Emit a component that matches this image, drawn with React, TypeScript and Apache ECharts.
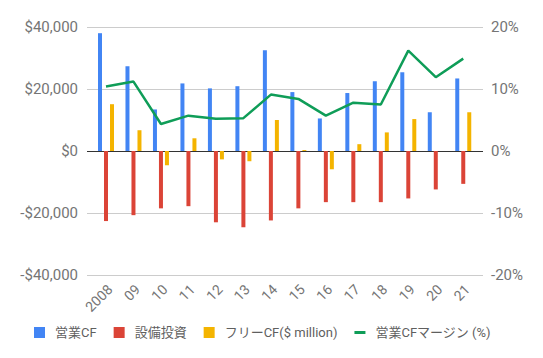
import React, { useEffect, useRef } from "react";
import * as echarts from "echarts";

const years = ["2008", "09", "10", "11", "12", "13", "14", "15", "16", "17", "18", "19", "20", "21"];
const operatingCF = [38000, 27300, 13400, 21800, 20200, 20900, 32500, 19000, 10500, 18700, 22500, 25400, 12500, 23400];
const capex = [-22600, -20700, -18500, -17800, -23000, -24600, -22400, -18500, -16500, -16500, -16500, -15300, -12400, -10600];
const freeCF = [15100, 6700, -4600, 4100, -2700, -3300, 10000, 300, -5900, 2200, 6000, 10300, 0, 12500];
const margin = [10.4, 11.2, 4.35, 5.7, 5.2, 5.3, 9.1, 8.4, 5.7, 7.8, 7.5, 16.2, 11.9, 14.9];

const seriesNames = ["営業CF", "設備投資", "フリーCF($ million)", "営業CFマージン (%)"];
const leftTicks = { min: -40000, max: 40000, interval: 20000 };
const rightTicks = { min: -20, max: 20, interval: 10 };

const FONT = 'Roboto, "Noto Sans CJK JP", sans-serif';

export default function App() {
  const ref = useRef<HTMLDivElement>(null);
  useEffect(() => {
    if (!ref.current) return;
    const chart = echarts.init(ref.current, undefined, { renderer: "svg" });
    const fmtMoney = (v: number) =>
      (v < 0 ? "-" : "") + "$" + Math.abs(v).toLocaleString("en-US");
    const top = 27;
    const bottom = 83;
    chart.setOption({
      animation: false,
      textStyle: { fontFamily: FONT },
      grid: [
        { left: 87, right: 60, top, bottom },
        { left: 92.25, right: 66, top, bottom },
        { left: 96.25, right: 62, top, bottom },
      ],
      legend: {
        left: 34,
        top: 326,
        padding: 0,
        itemWidth: 11,
        itemHeight: 11,
        itemGap: 17,
        textStyle: { fontSize: 13, color: "#5f5f5f", fontFamily: FONT, padding: [0, 0, 0, 5] },
        data: [
          { name: seriesNames[0], icon: "rect" },
          { name: seriesNames[1], icon: "rect" },
          { name: seriesNames[2], icon: "rect" },
          { name: seriesNames[3], icon: "path://M0,0h11v3h-11z" },
        ],
      },
      xAxis: [
        { gridIndex: 0, type: "category", data: years, show: false },
        {
          gridIndex: 1,
          type: "category",
          data: years,
          axisLine: { show: false, onZero: false },
          axisTick: { show: false },
          axisLabel: { show: false },
        },
        {
          gridIndex: 2,
          type: "category",
          data: years,
          axisLine: { show: false, onZero: false },
          axisTick: { show: false },
          axisLabel: { rotate: 45, fontSize: 14, color: "#757575", margin: 12, interval: 0 },
        },
      ],
      yAxis: [
        {
          gridIndex: 0,
          type: "value",
          position: "left",
          ...leftTicks,
          axisLabel: { fontSize: 15, color: "#757575", margin: 9, formatter: fmtMoney },
          axisLine: { show: false },
          axisTick: { show: false },
          splitLine: {
            show: true,
            lineStyle: { color: ["#cccccc", "#cccccc", "#333333", "#cccccc", "#cccccc"], width: 1 },
          },
        },
        {
          gridIndex: 0,
          type: "value",
          position: "right",
          ...rightTicks,
          axisLabel: { fontSize: 15, color: "#757575", margin: 8, formatter: (v: number) => v + "%" },
          axisLine: { show: false },
          axisTick: { show: false },
          splitLine: { show: false },
        },
        { gridIndex: 1, type: "value", ...leftTicks, show: false, splitLine: { show: false } },
        { gridIndex: 1, type: "value", ...rightTicks, show: false, splitLine: { show: false } },
        { gridIndex: 2, type: "value", ...leftTicks, show: false, splitLine: { show: false } },
      ],
      series: [
        {
          name: seriesNames[0],
          type: "bar",
          xAxisIndex: 1,
          yAxisIndex: 2,
          data: operatingCF,
          barWidth: 4,
          barGap: "50%",
          itemStyle: { color: "#4285f4" },
        },
        {
          name: seriesNames[1],
          type: "bar",
          xAxisIndex: 1,
          yAxisIndex: 2,
          data: capex,
          barWidth: 4,
          barGap: "50%",
          itemStyle: { color: "#db4437" },
        },
        {
          name: seriesNames[2],
          type: "bar",
          xAxisIndex: 1,
          yAxisIndex: 2,
          data: freeCF,
          barWidth: 4,
          barGap: "50%",
          itemStyle: { color: "#f4b400" },
        },
        {
          name: seriesNames[3],
          type: "line",
          xAxisIndex: 1,
          yAxisIndex: 3,
          data: margin,
          symbol: "none",
          lineStyle: { color: "#0f9d58", width: 2.5 },
          itemStyle: { color: "#0f9d58" },
        },
      ],
    });
    return () => chart.dispose();
  }, []);
  return <div ref={ref} style={{ width: 543, height: 358, position: "absolute", left: 0, top: 0 }} />;
}
